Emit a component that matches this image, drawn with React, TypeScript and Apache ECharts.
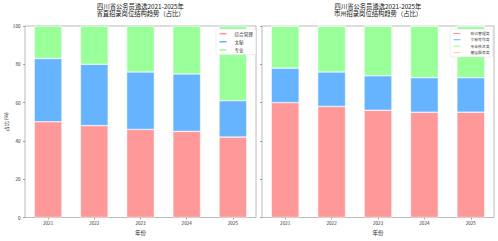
import React, { useEffect, useRef } from "react";
import * as echarts from "echarts";

// 年份
const years = ["2021", "2022", "2023", "2024", "2025"];

// 省直招录岗位结构（占比，%）
const provGeneral = [50, 48, 46, 45, 42];
const provSecretary = [33, 32, 30, 30, 19];
const provProfessional = [17, 20, 24, 25, 39];

// 市州招录岗位结构（占比，%）
const cityGeneral = [60, 58, 56, 55, 55];
const cityWriting = [18, 18, 18, 18, 18];
const cityTechnical = [22, 24, 26, 27, 27];
const cityGrassroots = [0, 0, 0, 0, 0];

const yTicks = [0, 20, 40, 60, 80, 100];

const PINK = "#ff9999";
const BLUE = "#66b3ff";
const GREEN = "#99ff99";
const ORANGE = "#ffcc99";

const FONT = '"Noto Sans CJK SC", "DejaVu Sans", sans-serif';

function barSeries(name: string, data: number[], color: string, idx: number, stack: string) {
  return {
    name,
    type: "bar",
    stack,
    data,
    xAxisIndex: idx,
    yAxisIndex: idx,
    barWidth: "60%",
    itemStyle: { color, borderColor: "#ffffff", borderWidth: 0.5 },
  };
}

function xAxisFor(idx: number) {
  return {
    type: "category",
    gridIndex: idx,
    data: years,
    name: "年份",
    nameLocation: "middle",
    nameGap: 10,
    nameTextStyle: { fontSize: 5.5, color: "#222", fontFamily: FONT },
    axisLine: { show: false },
    axisTick: { show: true, alignWithLabel: true, length: 2, lineStyle: { color: "#666", width: 0.6 } },
    axisLabel: { fontSize: 4.6, color: "#333", margin: 3.5, fontFamily: FONT },
  };
}

function yAxisFor(idx: number, showLabels: boolean) {
  return {
    type: "value",
    gridIndex: idx,
    min: 0,
    max: 100,
    interval: 20,
    name: showLabels ? "占比 (%)" : "",
    nameLocation: "middle",
    nameGap: 17,
    nameRotate: 90,
    nameTextStyle: { fontSize: 5, color: "#222", fontFamily: FONT },
    splitLine: { show: false },
    axisLine: { show: false },
    axisTick: { show: true, length: 2, lineStyle: { color: "#666", width: 0.6 } },
    axisLabel: {
      show: showLabels,
      fontSize: 4.6,
      color: "#333",
      margin: 4.5,
      fontFamily: FONT,
      formatter: (v: number) => (yTicks.includes(v) ? String(v) : ""),
    },
  };
}

function panelTitle(line1: string, line2: string, centerX: number) {
  const style = { fontSize: 6.3, lineHeight: 7, fontWeight: "normal", color: "#111", fontFamily: FONT };
  return {
    text: line1,
    subtext: line2,
    left: centerX,
    top: 2.5,
    textAlign: "center",
    padding: 0,
    itemGap: 0.5,
    textStyle: style,
    subtextStyle: style,
  };
}

export default function App() {
  const ref = useRef<HTMLDivElement>(null);

  useEffect(() => {
    if (!ref.current) return;
    const chart = echarts.init(ref.current, null, { renderer: "svg" });

    chart.setOption({
      animation: false,
      backgroundColor: "#ffffff",
      title: [
        panelTitle("四川省公务员遴选2021-2025年", "省直招录岗位结构趋势（占比）", 140.5),
        panelTitle("四川省公务员遴选2021-2025年", "市州招录岗位结构趋势（占比）", 378),
      ],
      legend: [
        {
          data: ["综合管理", "文秘", "专业"],
          orient: "vertical",
          left: 216,
          top: 29,
          itemWidth: 9,
          itemHeight: 3.5,
          itemGap: 2.6,
          padding: [2, 3, 2, 1.5],
          backgroundColor: "#ffffff",
          borderColor: "#dddddd",
          borderWidth: 0.5,
          borderRadius: 1,
          selectedMode: false,
          textStyle: { fontSize: 4.6, lineHeight: 5, color: "#333", fontFamily: FONT, padding: [0, 0, 0, 2] },
        },
        {
          data: ["综合管理类", "文秘写作类", "专业技术类", "基层服务类"],
          orient: "vertical",
          left: 450,
          top: 29,
          itemWidth: 9,
          itemHeight: 3,
          itemGap: 1.3,
          padding: [2, 3, 2, 1.5],
          backgroundColor: "#ffffff",
          borderColor: "#dddddd",
          borderWidth: 0.5,
          borderRadius: 1,
          selectedMode: false,
          textStyle: { fontSize: 3.8, lineHeight: 4, color: "#333", fontFamily: FONT, padding: [0, 0, 0, 4] },
        },
      ],
      grid: [
        {
          left: 25,
          right: 242,
          top: 26,
          bottom: 19,
          show: true,
          borderColor: "#aaaaaa",
          borderWidth: 0.8,
          backgroundColor: "transparent",
        },
        {
          left: 262,
          right: 4,
          top: 26,
          bottom: 19,
          show: true,
          borderColor: "#aaaaaa",
          borderWidth: 0.8,
          backgroundColor: "transparent",
        },
      ],
      xAxis: [xAxisFor(0), xAxisFor(1)],
      yAxis: [yAxisFor(0, true), yAxisFor(1, false)],
      series: [
        barSeries("综合管理", provGeneral, PINK, 0, "prov"),
        barSeries("文秘", provSecretary, BLUE, 0, "prov"),
        barSeries("专业", provProfessional, GREEN, 0, "prov"),
        barSeries("综合管理类", cityGeneral, PINK, 1, "city"),
        barSeries("文秘写作类", cityWriting, BLUE, 1, "city"),
        barSeries("专业技术类", cityTechnical, GREEN, 1, "city"),
        barSeries("基层服务类", cityGrassroots, ORANGE, 1, "city"),
      ],
    });

    return () => chart.dispose();
  }, []);

  return (
    <div
      ref={ref}
      style={{ position: "fixed", left: 0, top: 0, width: 498, height: 241 }}
    />
  );
}
